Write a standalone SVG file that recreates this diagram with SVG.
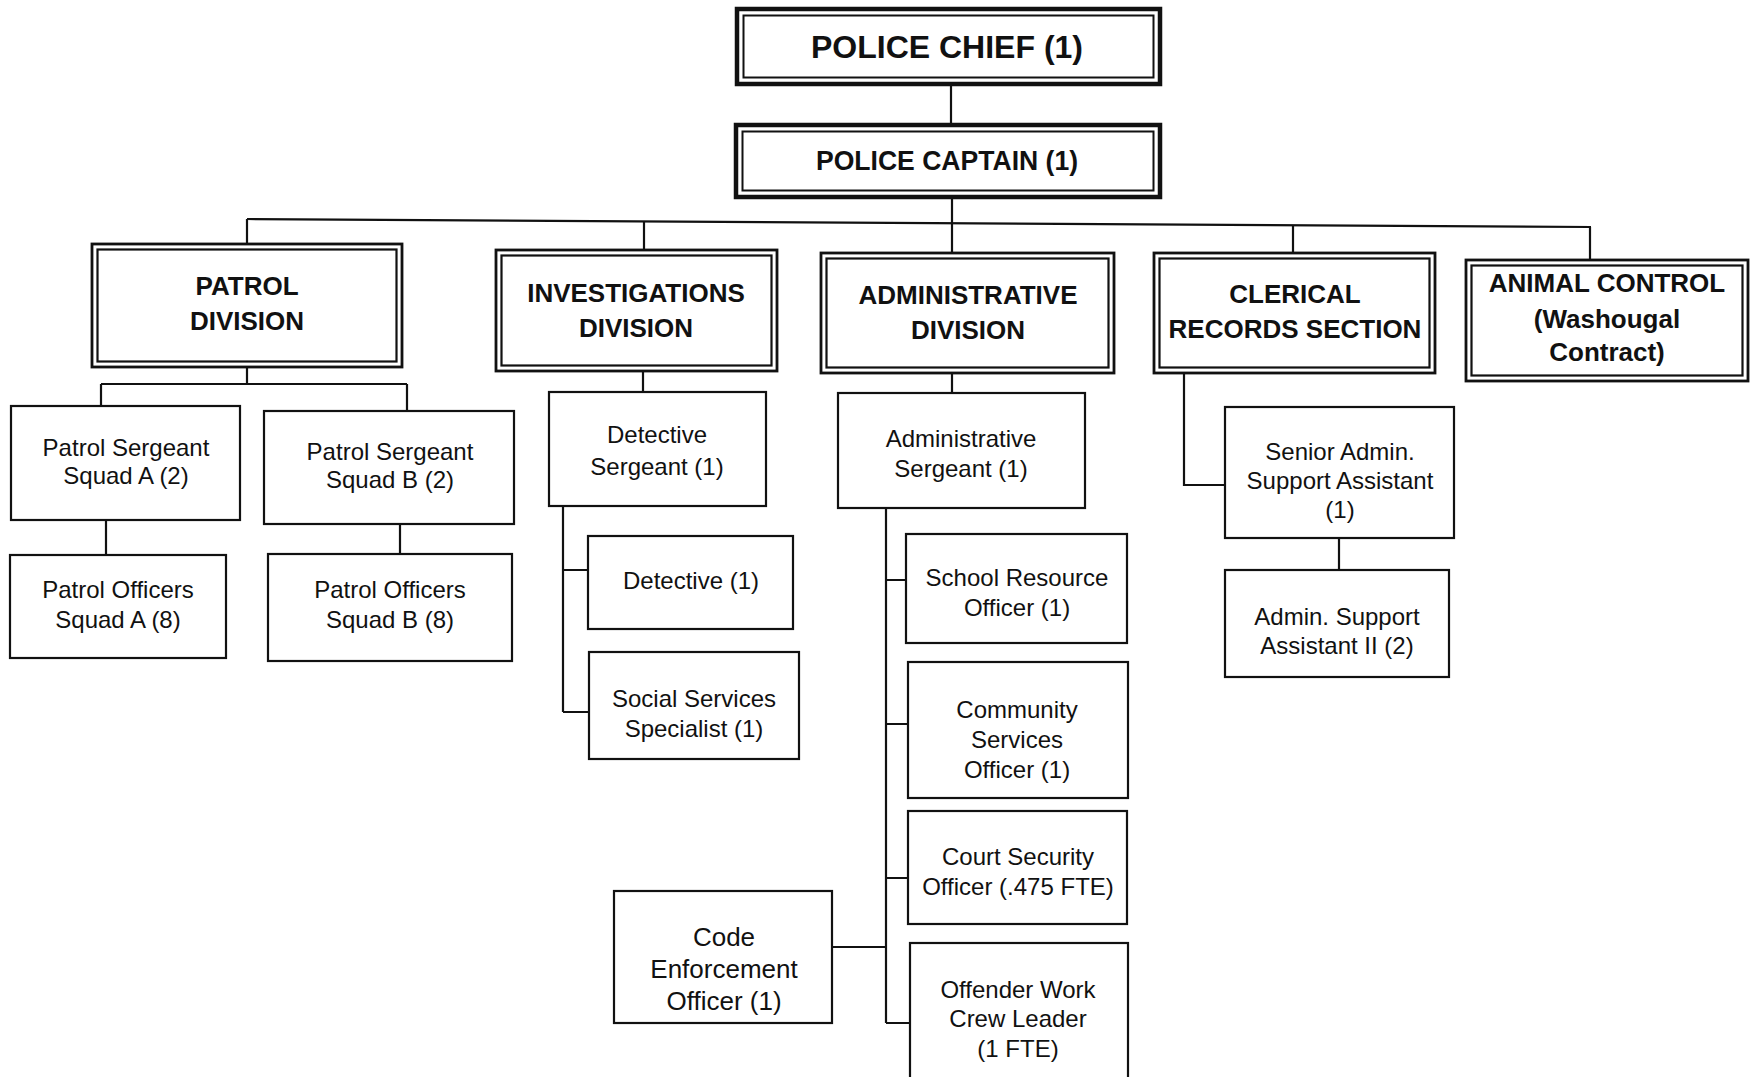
<svg xmlns="http://www.w3.org/2000/svg" width="1752" height="1077" viewBox="0 0 1752 1077">
<style>
.bg{fill:#fff}
.box{fill:#fff;stroke:#111;stroke-width:2.2}
.top{fill:#fff;stroke:#111;stroke-width:4.5}
.topin{fill:none;stroke:#111;stroke-width:2}
.dout{fill:#fff;stroke:#111;stroke-width:2.8}
.din{fill:none;stroke:#111;stroke-width:2.2}
.ln{fill:none;stroke:#111;stroke-width:2.2}
.hd{font-family:"Liberation Sans",Arial,sans-serif;font-weight:bold;font-size:26px;text-anchor:middle;fill:#111}
.tp{font-family:"Liberation Sans",Arial,sans-serif;font-weight:bold;text-anchor:middle;fill:#111}
.tx{font-family:"Liberation Sans",Arial,sans-serif;font-size:24px;text-anchor:middle;fill:#111}
.tx26{font-family:"Liberation Sans",Arial,sans-serif;font-size:26px;text-anchor:middle;fill:#111}
</style>
<rect class="bg" x="0" y="0" width="1752" height="1077"/>

<g id="connectors">
<path class="ln" d="M951 86V125"/>
<path class="ln" d="M952 197V253"/>
<path class="ln" d="M247 219L1591 227"/>
<path class="ln" d="M247 219V244"/>
<path class="ln" d="M644 221V250"/>
<path class="ln" d="M1293 225V253"/>
<path class="ln" d="M1590 227V260"/>
<path class="ln" d="M247 367V384M101 384H407M101 384V406M407 384V411"/>
<path class="ln" d="M106 520V555M400 524V554"/>
<path class="ln" d="M643 371V392M563 506V712M563 570H588M563 712H589"/>
<path class="ln" d="M952 373V393M886 508V1023M886 580H906M886 724H908M886 878H908M886 1023H910M832 947H886"/>
<path class="ln" d="M1184 374V485H1225M1339 538V570"/>
</g>

<g id="chief">
<rect class="top" x="737" y="9" width="423" height="75"/>
<rect class="topin" x="743.5" y="15.5" width="410" height="62"/>
<text class="tp" x="947" y="58" font-size="32" textLength="272" lengthAdjust="spacingAndGlyphs">POLICE CHIEF (1)</text>
</g>

<g id="captain">
<rect class="top" x="736" y="125" width="424" height="72"/>
<rect class="topin" x="742.5" y="131.5" width="411" height="59"/>
<text class="tp" x="947" y="170" font-size="27" textLength="262" lengthAdjust="spacingAndGlyphs">POLICE CAPTAIN (1)</text>
</g>

<g id="patrol-division">
<rect class="dout" x="92" y="244" width="310" height="123"/>
<rect class="din" x="97.5" y="249.5" width="299" height="112"/>
<text class="hd" x="247" y="295">PATROL</text>
<text class="hd" x="247" y="330">DIVISION</text>
</g>

<g id="investigations-division">
<rect class="dout" x="496" y="250" width="281" height="121"/>
<rect class="din" x="501.5" y="255.5" width="270" height="110"/>
<text class="hd" x="636" y="302">INVESTIGATIONS</text>
<text class="hd" x="636" y="337">DIVISION</text>
</g>

<g id="administrative-division">
<rect class="dout" x="821" y="253" width="293" height="120"/>
<rect class="din" x="826.5" y="258.5" width="282" height="109"/>
<text class="hd" x="968" y="304">ADMINISTRATIVE</text>
<text class="hd" x="968" y="339">DIVISION</text>
</g>

<g id="clerical-records">
<rect class="dout" x="1154" y="253" width="281" height="120"/>
<rect class="din" x="1159.5" y="258.5" width="270" height="109"/>
<text class="hd" x="1295" y="303">CLERICAL</text>
<text class="hd" x="1295" y="338">RECORDS SECTION</text>
</g>

<g id="animal-control">
<rect class="dout" x="1466" y="260" width="282" height="121"/>
<rect class="din" x="1471.5" y="265.5" width="271" height="110"/>
<text class="hd" x="1607" y="292">ANIMAL CONTROL</text>
<text class="hd" x="1607" y="328">(Washougal</text>
<text class="hd" x="1607" y="361">Contract)</text>
</g>

<g id="patrol-sergeant-a">
<rect class="box" x="11" y="406" width="229" height="114"/>
<text class="tx" x="126" y="456">Patrol Sergeant</text>
<text class="tx" x="126" y="484">Squad A (2)</text>
</g>

<g id="patrol-sergeant-b">
<rect class="box" x="264" y="411" width="250" height="113"/>
<text class="tx" x="390" y="460">Patrol Sergeant</text>
<text class="tx" x="390" y="488">Squad B (2)</text>
</g>

<g id="patrol-officers-a">
<rect class="box" x="10" y="555" width="216" height="103"/>
<text class="tx" x="118" y="598">Patrol Officers</text>
<text class="tx" x="118" y="628">Squad A (8)</text>
</g>

<g id="patrol-officers-b">
<rect class="box" x="268" y="554" width="244" height="107"/>
<text class="tx" x="390" y="598">Patrol Officers</text>
<text class="tx" x="390" y="628">Squad B (8)</text>
</g>

<g id="detective-sergeant">
<rect class="box" x="549" y="392" width="217" height="114"/>
<text class="tx" x="657" y="443">Detective</text>
<text class="tx" x="657" y="475">Sergeant (1)</text>
</g>

<g id="detective">
<rect class="box" x="588" y="536" width="205" height="93"/>
<text class="tx" x="691" y="589">Detective (1)</text>
</g>

<g id="social-services">
<rect class="box" x="589" y="652" width="210" height="107"/>
<text class="tx" x="694" y="707">Social Services</text>
<text class="tx" x="694" y="737">Specialist (1)</text>
</g>

<g id="administrative-sergeant">
<rect class="box" x="838" y="393" width="247" height="115"/>
<text class="tx" x="961" y="447">Administrative</text>
<text class="tx" x="961" y="477">Sergeant (1)</text>
</g>

<g id="school-resource">
<rect class="box" x="906" y="534" width="221" height="109"/>
<text class="tx" x="1017" y="586">School Resource</text>
<text class="tx" x="1017" y="616">Officer (1)</text>
</g>

<g id="community-services">
<rect class="box" x="908" y="662" width="220" height="136"/>
<text class="tx" x="1017" y="718">Community</text>
<text class="tx" x="1017" y="748">Services</text>
<text class="tx" x="1017" y="778">Officer (1)</text>
</g>

<g id="court-security">
<rect class="box" x="908" y="811" width="219" height="113"/>
<text class="tx" x="1018" y="865">Court Security</text>
<text class="tx" x="1018" y="895">Officer (.475 FTE)</text>
</g>

<g id="offender-work">
<rect class="box" x="910" y="943" width="218" height="150"/>
<text class="tx" x="1018" y="998">Offender Work</text>
<text class="tx" x="1018" y="1027">Crew Leader</text>
<text class="tx" x="1018" y="1057">(1 FTE)</text>
</g>

<g id="code-enforcement">
<rect class="box" x="614" y="891" width="218" height="132"/>
<text class="tx26" x="724" y="946">Code</text>
<text class="tx26" x="724" y="978">Enforcement</text>
<text class="tx26" x="724" y="1010">Officer (1)</text>
</g>

<g id="senior-admin">
<rect class="box" x="1225" y="407" width="229" height="131"/>
<text class="tx" x="1340" y="460">Senior Admin.</text>
<text class="tx" x="1340" y="489">Support Assistant</text>
<text class="tx" x="1340" y="518">(1)</text>
</g>

<g id="admin-support-ii">
<rect class="box" x="1225" y="570" width="224" height="107"/>
<text class="tx" x="1337" y="625">Admin. Support</text>
<text class="tx" x="1337" y="654">Assistant II (2)</text>
</g>
</svg>
